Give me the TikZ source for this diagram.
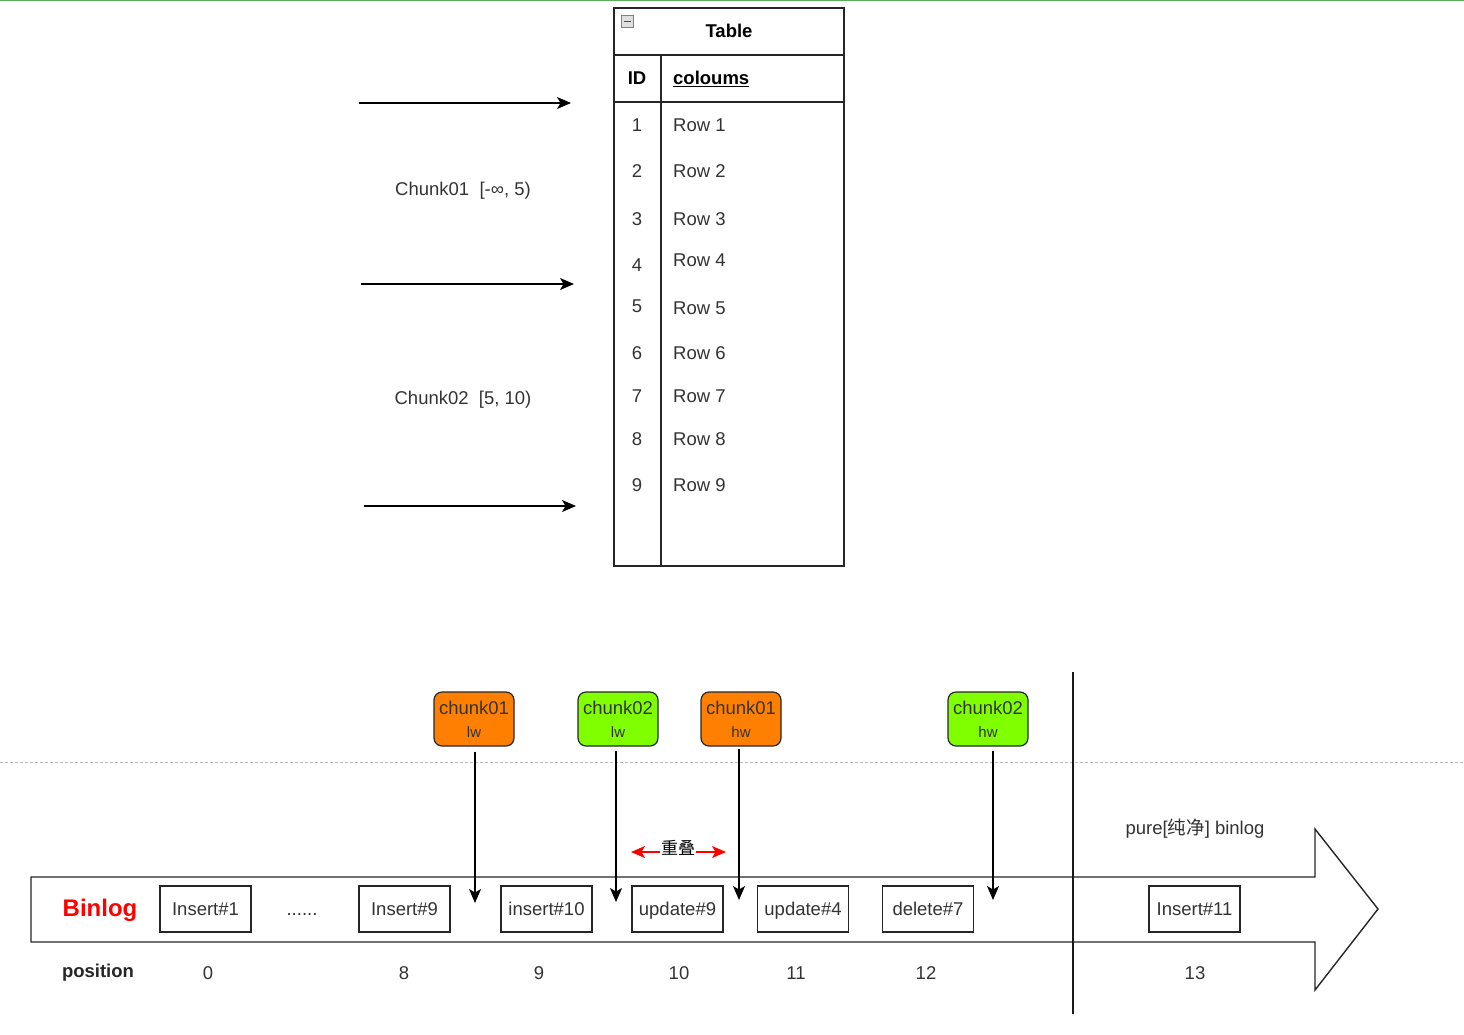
\documentclass[tikz,border=0pt]{standalone}
\usepackage{fontspec}
\setmainfont{Liberation Sans}
\newfontfamily\cjk{Noto Sans CJK SC}
\usepackage{tikz}
\usetikzlibrary{arrows.meta,positioning}
\definecolor{chunkorange}{HTML}{FF8000}
\definecolor{chunkgreen}{HTML}{80FF00}
\definecolor{txtgray}{HTML}{333333}
\definecolor{topgreen}{HTML}{5AAE5A}
\newcommand{\bigtxt}{\fontsize{18.5}{21}\selectfont}
\newcommand{\smalltxt}{\fontsize{15}{17}\selectfont}
\tikzset{
  eventbox/.style={draw=black!85, line width=1.2pt, fill=white, minimum width=91pt, minimum height=46pt, inner sep=0pt, text height=13.3pt, text depth=0pt, font=\bigtxt, text=txtgray},
  chunkbox/.style={rounded corners=8pt, draw=black!85, line width=1.2pt, minimum width=80pt, minimum height=54pt, align=center, inner sep=0pt, font=\bigtxt, text=txtgray},
  plain/.style={inner sep=0pt, text height=13.3pt, text depth=0pt, font=\bigtxt, text=txtgray},
  arrow/.style={-{Stealth[length=14pt,width=12pt,inset=3.5pt]}, line width=1.2pt, draw=black},
  overlap/.style={{Stealth[length=14pt,width=12pt,inset=3.5pt]}-{Stealth[length=14pt,width=12pt,inset=3.5pt]}, line width=1.2pt, draw=red}
}

\begin{document}
\begin{tikzpicture}[x=1pt,y=-1pt]
  \useasboundingbox (0,0) rectangle (1464,1034);
  \draw[topgreen, line width=1pt] (0,0.5) -- (1464,0.5);

  % table
  \draw[black!85, line width=1.4pt, fill=white] (614,8) rectangle (844,566);
  \draw[black!85, line width=1.4pt] (614,55) -- (844,55) (614,102) -- (844,102) (661,55) -- (661,566);
  \draw[gray, fill=gray!25, line width=0.8pt] (621,15) rectangle (633,27);
  \draw[black!70, line width=1pt] (623.5,21) -- (630.5,21);
  \node[plain, font=\bigtxt\bfseries, text=black] (tbl) at (729,31) {Table};
  \node[plain, font=\bigtxt\bfseries, text=black] (idh) at (637,78) {ID};
  \node[plain, font=\bigtxt\bfseries, text=black, anchor=west] (colh) at (673,78) {\underline{coloums}};
  \foreach \i/\yid/\yrow in {1/125/125, 2/171/171, 3/219/219, 4/265/260, 5/306/308, 6/353/353, 7/396/396, 8/439/439, 9/485/485} {
    \node[plain] (id\i) at (637,\yid) {\i};
    \node[plain, anchor=west] (row\i) at (673,\yrow) {Row \i};
  }

  % chunk bounds
  \coordinate (b0s) at (359,103);  \coordinate (b0e) at (571,103);
  \coordinate (b1s) at (361,284);  \coordinate (b1e) at (574,284);
  \coordinate (b2s) at (364,506);  \coordinate (b2e) at (576,506);
  \draw[arrow] (b0s) -- (b0e);
  \draw[arrow] (b1s) -- (b1e);
  \draw[arrow] (b2s) -- (b2e);
  \node[plain] (rng1) at (463,189) {Chunk01~~[-∞, 5)};
  \node[plain] (rng2) at (463,398) {Chunk02~~[5, 10)};

  % binlog
  \draw[gray!55, line width=1pt, dash pattern=on 3pt off 2pt] (0,762) -- (1464,762);
  \draw[black!85, line width=1.4pt, fill=white] (31,877) -- (1315,877) -- (1315,829) -- (1378,909) -- (1315,990) -- (1315,942) -- (31,942) -- cycle;
  \draw[black!90, line width=1.4pt] (1073,672) -- (1073,1014);

  \node[plain, text height=17.2pt, font=\fontsize{24}{26}\selectfont\bfseries, text=red] (binlog) at (100,908) {Binlog};
  \node[plain, font=\bigtxt\bfseries, text=black!85] (pos) at (98,971) {position};
  \node[eventbox] (e1) at (205.5,909) {Insert\#1};
  \node[plain] (dots) at (302,909) {......};
  \node[eventbox] (e9) at (404.5,909) {Insert\#9};
  \node[eventbox] (e10) at (546.5,909) {insert\#10};
  \node[eventbox] (u9) at (677.5,909) {update\#9};
  \node[eventbox] (u4) at (803,909) {update\#4};
  \node[eventbox] (d7) at (928,909) {delete\#7};
  \node[eventbox] (e11) at (1194.5,909) {Insert\#11};
  \foreach \n/\x in {0/208, 8/404, 9/539, 10/679, 11/796, 12/926, 13/1195}
    \node[plain] (p\n) at (\x,973) {\n};
  \node[plain] (pure) at (1195,828) {pure[{\cjk 纯净}] binlog};

  % watermarks
  \node[chunkbox, fill=chunkorange] (c1lw) at (474,719) {chunk01\\[2pt]{\smalltxt lw}};
  \node[chunkbox, fill=chunkgreen] (c2lw) at (618,719) {chunk02\\[2pt]{\smalltxt lw}};
  \node[chunkbox, fill=chunkorange] (c1hw) at (741,719) {chunk01\\[2pt]{\smalltxt hw}};
  \node[chunkbox, fill=chunkgreen] (c2hw) at (988,719) {chunk02\\[2pt]{\smalltxt hw}};
  \coordinate (t1) at (475,903);
  \coordinate (t2) at (616,902);
  \coordinate (t3) at (739,900);
  \coordinate (t4) at (993,900);
  \draw[arrow] (c1lw.south -| t1) ++(0,5) -- (t1);
  \draw[arrow] (c2lw.south -| t2) ++(0,4) -- (t2);
  \draw[arrow] (c1hw.south -| t3) ++(0,2) -- (t3);
  \draw[arrow] (c2hw.south -| t4) ++(0,4) -- (t4);

  \coordinate (ov1) at (631,852);
  \coordinate (ov2) at (726,852);
  \draw[overlap] (ov1) -- (ov2);
  \node[plain, fill=white, inner sep=1pt, text height=13pt, text depth=2pt, font=\fontsize{17}{19}\cjk, text=black] (ovl) at (678,849) {重叠};
\end{tikzpicture}
\end{document}
